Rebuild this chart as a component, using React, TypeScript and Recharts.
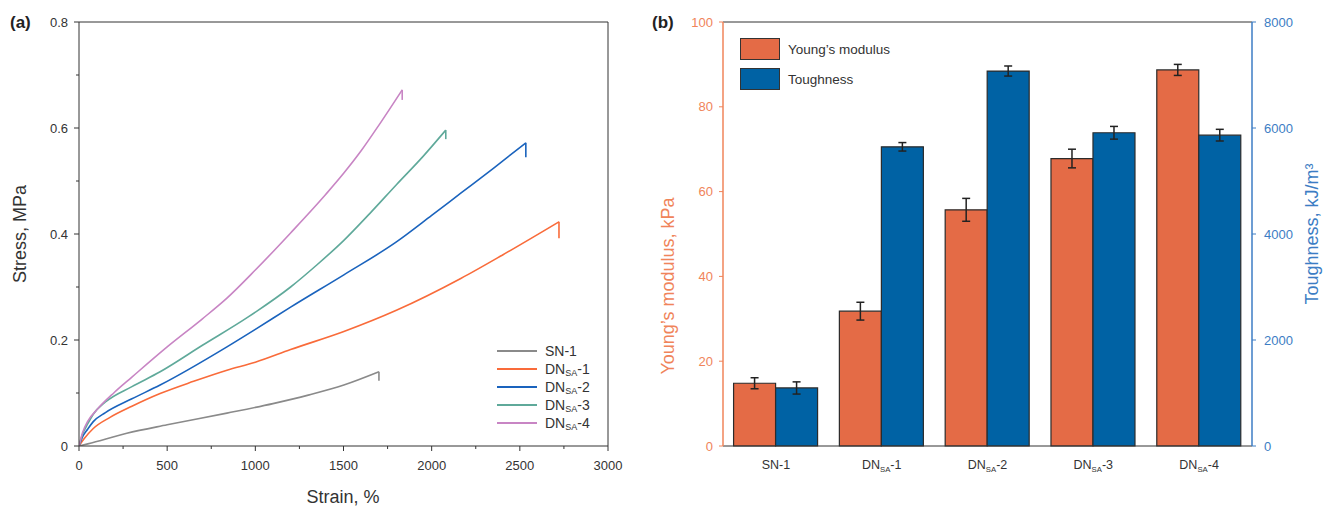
import React from "react";
import { LineChart, Line, XAxis, YAxis, Legend, ReferenceLine, BarChart, Bar, ErrorBar } from "recharts";

const FONT = "'Liberation Sans', Arial, Helvetica, sans-serif";

// stress-strain curves, [strain %, stress MPa]; last point is the break drop
const sn1 = [[0, 0], [50, 0.004], [271, 0.024], [500, 0.04], [839, 0.062], [1100, 0.08], [1300, 0.096], [1502, 0.115], [1701, 0.14], [1701, 0.123]];
const dn1 = [[0, 0], [30, 0.014], [81, 0.033], [176, 0.054], [300, 0.075], [460, 0.099], [650, 0.122], [839, 0.143], [1000, 0.158], [1200, 0.182], [1502, 0.216], [1800, 0.256], [2165, 0.316], [2400, 0.36], [2722, 0.423], [2722, 0.392]];
const dn2 = [[0, 0], [20, 0.017], [50, 0.032], [81, 0.046], [150, 0.063], [300, 0.089], [460, 0.115], [839, 0.187], [1000, 0.22], [1200, 0.262], [1502, 0.323], [1800, 0.385], [2000, 0.435], [2165, 0.477], [2350, 0.524], [2534, 0.572], [2534, 0.545]];
const dn3 = [[0, 0], [20, 0.022], [50, 0.042], [81, 0.06], [150, 0.083], [300, 0.112], [460, 0.14], [700, 0.19], [962, 0.244], [1200, 0.3], [1350, 0.342], [1502, 0.388], [1650, 0.439], [1800, 0.493], [1950, 0.546], [2080, 0.596], [2080, 0.579]];
const dn4 = [[0, 0], [20, 0.025], [50, 0.047], [100, 0.068], [200, 0.101], [300, 0.13], [500, 0.187], [700, 0.24], [839, 0.279], [1000, 0.332], [1200, 0.402], [1400, 0.475], [1502, 0.515], [1600, 0.557], [1700, 0.605], [1833, 0.672], [1833, 0.653]];

const curveNames = ["SN-1", "DN{SA}-1", "DN{SA}-2", "DN{SA}-3", "DN{SA}-4"];
const curveColors = ["#8a8a8a", "#f96b3a", "#1a63bd", "#5fa99a", "#c885c4"];

const strainTicks = [0, 250, 500, 750, 1000, 1250, 1500, 1750, 2000, 2250, 2500, 2750, 3000];
const stressTicks = [0, 0.1, 0.2, 0.3, 0.4, 0.5, 0.6, 0.7, 0.8];

// bar panel
const categories = ["SN-1", "DN{SA}-1", "DN{SA}-2", "DN{SA}-3", "DN{SA}-4"];
const youngsModulus = [14.8, 31.8, 55.7, 67.8, 88.7];
const youngsErr = [1.3, 2.1, 2.7, 2.2, 1.3];
const toughness = [1095, 5645, 7075, 5910, 5865];
const toughnessErr = [115, 80, 95, 120, 110];
const modulusTicks = [0, 20, 40, 60, 80, 100];
const toughTicks = [0, 2000, 4000, 6000, 8000];

const ORANGE_BAR = "#e46b46";
const BLUE_BAR = "#0062a4";
const ORANGE_AXIS = "#f0845a";
const BLUE_AXIS = "#3c7dc4";

function splitName(s: string) {
  const m = s.match(/^(.*)\{(.*)\}(.*)$/);
  return m ? [m[1], m[2], m[3]] : [s, "", ""];
}

const curves = [sn1, dn1, dn2, dn3, dn4].map((pts, i) => {
  const data = pts.map(([strain, stress]) => ({ strain, stress }));
  return {
    name: curveNames[i],
    color: curveColors[i],
    main: data.slice(0, -1),
    drop: data.slice(-2),
  };
});

const barData = categories.map((c, i) => ({
  name: c,
  ym: youngsModulus[i],
  ymErr: youngsErr[i],
  tough: toughness[i],
  toughErr: toughnessErr[i],
}));

const StrainTick = (props: any) => {
  const { x, y, payload } = props;
  const major = payload.value % 500 === 0;
  return (
    <g>
      <line x1={x} x2={x} y1={y} y2={y + (major ? 5 : 3)} stroke="#333" />
      {major && (
        <text x={x} y={y + 24} textAnchor="middle" fontSize={13} fill="#333" fontFamily={FONT}>
          {payload.value}
        </text>
      )}
    </g>
  );
};

const StressTick = (props: any) => {
  const { x, y, payload } = props;
  const major = Math.round(payload.value * 10) % 2 === 0;
  return (
    <g>
      <line x1={x - (major ? 5 : 3)} x2={x} y1={y} y2={y} stroke="#333" />
      {major && (
        <text x={x - 11} y={y + 4.5} textAnchor="end" fontSize={13} fill="#333" fontFamily={FONT}>
          {payload.value}
        </text>
      )}
    </g>
  );
};

const NameSvg = ({ s, x, y, size }: any) => {
  const [a, b, c] = splitName(s);
  return (
    <text x={x} y={y} textAnchor="middle" fontSize={size} fill="#333" fontFamily={FONT}>
      <tspan>{a}</tspan>
      {b && <tspan fontSize={size * 0.62} dy={3}>{b}</tspan>}
      {b && <tspan dy={-3}>{c}</tspan>}
    </text>
  );
};

const CatTick = (props: any) => {
  const { x, y, payload } = props;
  return <NameSvg s={payload.value} x={x} y={y + 23} size={12.5} />;
};

const ModTick = (props: any) => {
  const { x, y, payload } = props;
  return (
    <g>
      <line x1={x - 4} x2={x} y1={y} y2={y} stroke={ORANGE_AXIS} />
      <text x={x - 10} y={y + 4.5} textAnchor="end" fontSize={13} fill={ORANGE_AXIS} fontFamily={FONT}>
        {payload.value}
      </text>
    </g>
  );
};

const ToughTick = (props: any) => {
  const { x, y, payload } = props;
  return (
    <g>
      <line x1={x} x2={x + 4} y1={y} y2={y} stroke={BLUE_AXIS} />
      <text x={x + 12} y={y + 4.5} textAnchor="start" fontSize={13} fill={BLUE_AXIS} fontFamily={FONT}>
        {payload.value}
      </text>
    </g>
  );
};

const HtmlName = ({ s }: { s: string }) => {
  const [a, b, c] = splitName(s);
  return (
    <span>
      {a}
      {b && <sub style={{ fontSize: 9, verticalAlign: "-2px" }}>{b}</sub>}
      {c}
    </span>
  );
};

const CurveLegend = () => (
  <div style={{ fontFamily: FONT, fontSize: 14, color: "#333" }}>
    {curves.map((c) => (
      <div key={c.name} style={{ display: "flex", alignItems: "center", height: 18 }}>
        <div style={{ width: 40, height: 2, background: c.color, marginRight: 8 }} />
        <HtmlName s={c.name} />
      </div>
    ))}
  </div>
);

const BarLegend = () => (
  <div style={{ fontFamily: FONT, fontSize: 13.5, color: "#333" }}>
    {[
      ["Young\u2019s modulus", ORANGE_BAR],
      ["Toughness", BLUE_BAR],
    ].map(([label, color]) => (
      <div key={label} style={{ display: "flex", alignItems: "center", height: 30 }}>
        <div style={{ width: 40, height: 22, background: color, border: "1px solid #333", boxSizing: "border-box", marginRight: 8 }} />
        <span>{label}</span>
      </div>
    ))}
  </div>
);

export default function App() {
  return (
    <div style={{ position: "absolute", left: 0, top: 0, width: 1328, height: 509, background: "#fff", fontFamily: FONT }}>
      <div style={{ position: "absolute", left: 10, top: 13, fontSize: 17, fontWeight: "bold", color: "#222" }}>(a)</div>
      <div style={{ position: "absolute", left: 652, top: 13, fontSize: 17, fontWeight: "bold", color: "#222" }}>(b)</div>

      <div style={{ position: "absolute", left: 0, top: 0 }}>
        <LineChart width={640} height={509} margin={{ top: 22, right: 32, left: 0, bottom: 0 }}>
          <XAxis
            type="number"
            dataKey="strain"
            domain={[0, 3000]}
            ticks={strainTicks}
            interval={0}
            height={63}
            tickSize={0}
            tickMargin={0}
            tick={(p: any) => <StrainTick {...p} />}
            axisLine={{ stroke: "#333" }}
            allowDataOverflow
            label={{
              content: () => (
                <text x={343} y={503} textAnchor="middle" fontSize={18} fill="#333" fontFamily={FONT}>
                  Strain, %
                </text>
              ),
            }}
          />
          <YAxis
            type="number"
            domain={[0, 0.8]}
            ticks={stressTicks}
            interval={0}
            width={79}
            tickSize={0}
            tickMargin={0}
            tick={(p: any) => <StressTick {...p} />}
            axisLine={{ stroke: "#333" }}
            allowDataOverflow
            label={{
              content: () => (
                <text x={20} y={234} transform="rotate(-90 20 234)" textAnchor="middle" dominantBaseline="central" fontSize={18} fill="#333" fontFamily={FONT}>
                  Stress, MPa
                </text>
              ),
            }}
          />
          <ReferenceLine y={0.8} stroke="#333" />
          <ReferenceLine x={3000} stroke="#333" />
          {curves.map((c) => (
            <Line
              key={c.name}
              data={c.main}
              dataKey="stress"
              name={c.name}
              type="monotone"
              stroke={c.color}
              strokeWidth={1.6}
              dot={false}
              isAnimationActive={false}
            />
          ))}
          {curves.map((c) => (
            <Line
              key={c.name + "-break"}
              data={c.drop}
              dataKey="stress"
              legendType="none"
              type="linear"
              stroke={c.color}
              strokeWidth={1.6}
              dot={false}
              isAnimationActive={false}
            />
          ))}
          <Legend
            layout="horizontal"
            verticalAlign="middle"
            align="center"
            content={() => <CurveLegend />}
            wrapperStyle={{ position: "absolute", left: 497, top: 342, width: 130 }}
          />
        </LineChart>
      </div>

      <div style={{ position: "absolute", left: 640, top: 0 }}>
        <BarChart
          width={688}
          height={509}
          data={barData}
          margin={{ top: 22, right: 0, left: 0, bottom: 0 }}
          barCategoryGap="10%"
          barGap={0}
        >
          <XAxis
            dataKey="name"
            height={63}
            interval={0}
            tickLine={false}
            tickSize={0}
            tickMargin={0}
            tick={(p: any) => <CatTick {...p} />}
            axisLine={{ stroke: "#333" }}
          />
          <YAxis
            yAxisId="left"
            domain={[0, 100]}
            ticks={modulusTicks}
            interval={0}
            width={83}
            tickSize={0}
            tickMargin={0}
            tick={(p: any) => <ModTick {...p} />}
            axisLine={{ stroke: ORANGE_AXIS, strokeWidth: 1.5 }}
            label={{
              content: () => (
                <text x={28} y={286} transform="rotate(-90 28 286)" textAnchor="middle" dominantBaseline="central" fontSize={18} fill={ORANGE_AXIS} fontFamily={FONT}>
                  Young{"\u2019"}s modulus, kPa
                </text>
              ),
            }}
          />
          <YAxis
            yAxisId="right"
            orientation="right"
            domain={[0, 8000]}
            ticks={toughTicks}
            interval={0}
            width={76}
            tickSize={0}
            tickMargin={0}
            tick={(p: any) => <ToughTick {...p} />}
            axisLine={{ stroke: BLUE_AXIS, strokeWidth: 1.5 }}
            label={{
              content: () => (
                <text x={672} y={234} transform="rotate(-90 672 234)" textAnchor="middle" dominantBaseline="central" fontSize={18} fill={BLUE_AXIS} fontFamily={FONT}>
                  Toughness, kJ/m{"\u00b3"}
                </text>
              ),
            }}
          />
          <ReferenceLine yAxisId="left" y={100} stroke="#333" />
          <Bar yAxisId="left" dataKey="ym" fill={ORANGE_BAR} stroke="#2b2b2b" strokeWidth={1.2} isAnimationActive={false}>
            <ErrorBar dataKey="ymErr" direction="y" width={4} stroke="#222" strokeWidth={1.5} />
          </Bar>
          <Bar yAxisId="right" dataKey="tough" fill={BLUE_BAR} stroke="#2b2b2b" strokeWidth={1.2} isAnimationActive={false}>
            <ErrorBar dataKey="toughErr" direction="y" width={4} stroke="#222" strokeWidth={1.5} />
          </Bar>
          <Legend
            layout="horizontal"
            verticalAlign="middle"
            align="center"
            content={() => <BarLegend />}
            wrapperStyle={{ position: "absolute", left: 100, top: 34, width: 200 }}
          />
        </BarChart>
      </div>
    </div>
  );
}
